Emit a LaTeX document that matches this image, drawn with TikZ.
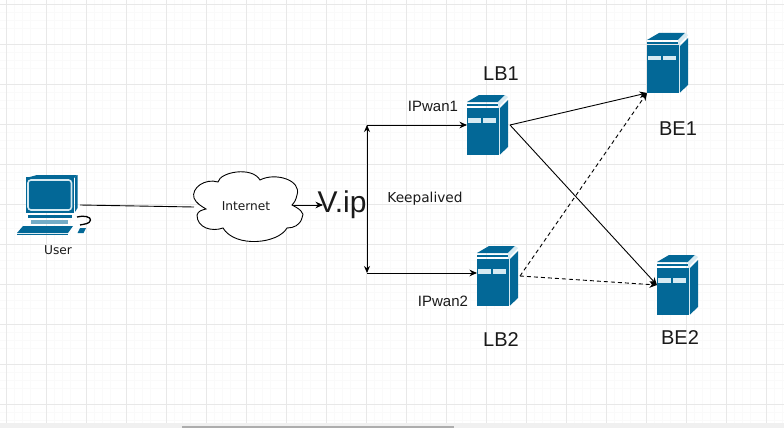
\documentclass[tikz,border=0pt]{standalone}
\usepackage{fontspec}
\setmainfont{Liberation Sans}
\newfontfamily\dejavu{DejaVu Sans}
\usetikzlibrary{arrows.meta}
\definecolor{srvblue}{HTML}{036897}
\definecolor{srvlight}{HTML}{D6EAF2}
\definecolor{gridmajor}{HTML}{E8E8E8}
\definecolor{gridminor}{HTML}{FAFAFA}
\definecolor{txt}{HTML}{1A1A1A}
\tikzset{
  x=1pt,y=-1pt,
  conn/.style={draw=black,line width=0.9pt},
  arrow/.style={conn,-{Stealth[length=7.5pt,width=6.5pt]}},
  darrow/.style={conn,{Stealth[length=7pt,width=6pt]}-{Stealth[length=7pt,width=6pt]}},
  dash line/.style={arrow,dash pattern=on 4pt off 3pt},
  srvnode/.style={inner sep=0pt,outer sep=0pt,minimum width=41pt,minimum height=60pt},
  small label/.style={font=\dejavu\fontsize{12.2}{14}\selectfont,text=txt,inner sep=0pt},
  mid label/.style={font=\fontsize{15}{17}\selectfont,text=txt,inner sep=0pt},
  big label/.style={font=\fontsize{20}{22}\selectfont,text=txt,inner sep=0pt},
  serverpic/.pic={
    \fill[srvblue] (0,7) -- (12,0) -- (38,0) -- (31,7) -- cycle;
    \fill[srvblue] (0,9) rectangle (31,11);
    \fill[srvlight] (31,7) -- (38,0) -- (41,2) -- (33,10) -- (33,59) -- (31,59) -- (31,9) -- cycle;
    \fill[srvblue] (0,12.5) rectangle (31.5,59.5);
    \fill[srvblue] (33,13) -- (41,5) -- (41,52) -- (33,59.5) -- cycle;
    \fill[srvlight] (1,23) rectangle (14,27.5);
    \fill[srvlight] (16,23) rectangle (29,27.5);
  },
}
\begin{document}
\begin{tikzpicture}
\useasboundingbox (0,0) rectangle (784,428);
\fill[white] (0,0) rectangle (784,428);
% grid
\foreach \g in {14,22,30,54,62,70,94,102,110,134,142,150,174,182,190,214,222,230,254,262,270,294,302,310,334,342,350,374,382,390,414,422,430,454,462,470,494,502,510,534,542,550,574,582,590,614,622,630,654,662,670,694,702,710,734,742,750,774,782}
  \draw[gridminor,line width=0.6pt] (\g,0) -- (\g,423);
\foreach \g in {12,20,28,52,60,68,92,100,108,132,140,148,172,180,188,212,220,228,252,260,268,292,300,308,332,340,348,372,380,388,412,420}
  \draw[gridminor,line width=0.6pt] (0,\g) -- (784,\g);
\foreach \g in {6,46,86,126,166,206,246,286,326,366,406,446,486,526,566,606,646,686,726,766}
  \draw[gridmajor,line width=0.7pt] (\g,0) -- (\g,423);
\foreach \g in {4,44,84,124,164,204,244,284,324,364,404}
  \draw[gridmajor,line width=0.7pt] (0,\g) -- (784,\g);
\fill[black!6] (0,423) rectangle (784,428);
\fill[black!32] (182,426) rectangle (454,428);

% nodes
\node[inner sep=0pt,outer sep=0pt,minimum width=62pt,minimum height=62pt] (user) at (49,205) {};
\node[inner sep=0pt,outer sep=0pt,minimum width=108pt,minimum height=70pt] (cloud) at (248,207) {};
\node[srvnode] (lb1) at (487.5,125) {};
\node[srvnode] (lb2) at (497.5,276) {};
\node[srvnode] (be1) at (667.5,63) {};
\node[srvnode] (be2) at (677.5,285) {};
\coordinate (cloudout) at (292,205);
\coordinate (vipin) at (323,205);
\coordinate (a1) at (367,125);
\coordinate (a2) at (367,273);

% connectors
\draw[conn] (user.east) -- (cloud.west);
\draw[arrow] (cloudout) -- (vipin);
\draw[darrow] (a1) -- (a2);
\draw[arrow] (a1) -- (lb1.west);
\draw[arrow] (a2) -- (a2 -| lb2.west);
\draw[arrow] ([xshift=2pt]lb1.east) -- (be1.south west);
\draw[arrow] ([xshift=2pt]lb1.east) -- (be2.west);
\draw[dash line] ([xshift=2pt]lb2.east) -- (be1.south west);
\draw[dash line] ([xshift=2pt]lb2.east) -- (be2.west);
\node[inner sep=0pt,font=\fontsize{30}{32}\selectfont,text=txt] (vip) at (342,205) {V.ip};

% cloud
\draw[draw=black,fill=white,line width=0.9pt]
  (194,198) .. controls (191,188) and (205,178) .. (218,182)
  .. controls (220,172) and (252,166) .. (260,180)
  .. controls (275,172) and (302,180) .. (297,195)
  .. controls (296,200) and (294,203) .. (292,205)
  .. controls (298,208) and (306,213) .. (302,218)
  .. controls (300,225) and (294,228) .. (287,228)
  .. controls (278,244) and (235,248) .. (223,228)
  .. controls (212,232) and (197,228) .. (197,215)
  .. controls (198,211) and (202,210) .. (206,209)
  .. controls (201,206) and (196,203) .. (194,198) -- cycle;
\node[small label] (inet) at (246,206) {Internet};

% user icon
\begin{scope}
\fill[srvblue] (37,175) -- (77,175) -- (74,178) -- (26,178) -- cycle;
\fill[srvblue] (26,177) rectangle (74,213);
\fill[srvblue] (75,177) -- (77.5,175) -- (77.5,208) -- (75,212) -- cycle;
\draw[srvlight,line width=1.6pt,rounded corners=3pt] (28,180) rectangle (71.5,210);
\fill[srvblue] (28,215) rectangle (72,217.5);
\fill[srvblue!55!white] (31,220) rectangle (68,224);
\fill[srvblue] (23,226) -- (73,226) -- (68,233) -- (17,233) -- cycle;
\fill[srvblue] (17,234) rectangle (68,235);
\fill[srvblue] (80,228) -- (86,228) -- (83.5,233) -- (77.5,233) -- cycle;
\draw[black,line width=1.3pt] (77,217) .. controls (84,215) and (91,217) .. (90.5,220) .. controls (90,224) and (84,224) .. (80,225);
\end{scope}
\node[small label] (ulabel) at (58,250) {User};

% servers
\pic at (467,95) {serverpic};
\pic at (477,246) {serverpic};
\pic at (647,33) {serverpic};
\pic at (657,255) {serverpic};

% labels
\node[big label] (t1) at (501,74) {LB1};
\node[big label] (t2) at (501,340) {LB2};
\node[big label] (t3) at (678,129) {BE1};
\node[big label] (t4) at (680,338) {BE2};
\node[mid label] (t5) at (433,106) {IPwan1};
\node[mid label] (t6) at (443,301) {IPwan2};
\node[font=\dejavu\fontsize{13.7}{15}\selectfont,text=txt,inner sep=0pt] (t7) at (425,199) {Keepalived};
\end{tikzpicture}
\end{document}
